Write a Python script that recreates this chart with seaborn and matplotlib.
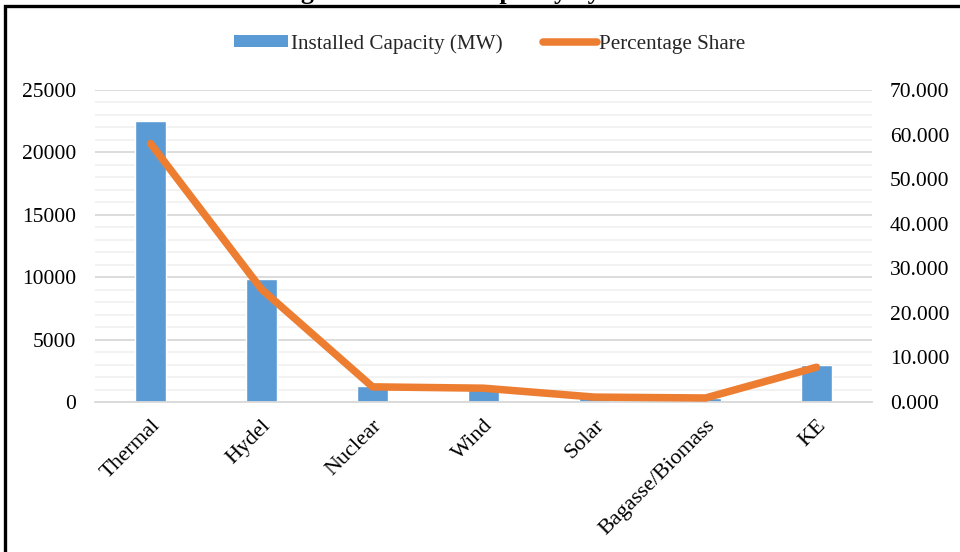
import numpy as np
import pandas as pd
import matplotlib
matplotlib.use("Agg")
import matplotlib.pyplot as plt
from matplotlib.patches import Rectangle, Patch
from matplotlib.lines import Line2D
from matplotlib.ticker import FormatStrFormatter, MultipleLocator
import seaborn as sns

# Installed generation capacity by source
categories = ["Thermal", "Hydel", "Nuclear", "Wind", "Solar", "Bagasse/Biomass", "KE"]
capacity_mw = [22480, 9860, 1300, 1200, 430, 360, 2980]
share_pct = [58.0, 25.3, 3.4, 3.1, 1.1, 0.9, 7.8]

bar_label = "Installed Capacity (MW)"
line_label = "Percentage Share"
title_text = "Figure: Installed Capacity by Source"

BLUE = "#5B9BD5"
ORANGE = "#ED7D31"
GRID_MAJOR = "#D9D9D9"
GRID_MINOR = "#EFEFEF"

sns.set_theme(style="white")
plt.rcParams["font.family"] = ["Liberation Serif", "DejaVu Serif"]

df = pd.DataFrame({"source": categories, "capacity": capacity_mw, "share": share_pct})

W, H = 960, 552
PX = 72 / 100  # points per pixel at 100 dpi
fig = plt.figure(figsize=(W / 100, H / 100), dpi=100)
ax = fig.add_axes([95 / W, (H - 402) / H, (872 - 95) / W, (402 - 90) / H])

sns.barplot(data=df, x="source", y="capacity", color=BLUE, width=0.28,
            saturation=1, ax=ax, zorder=2)

ax.set_ylim(0, 25000)
ax.yaxis.set_major_locator(MultipleLocator(5000))
ax.yaxis.set_minor_locator(MultipleLocator(1000))
ax.grid(which="major", axis="y", color=GRID_MAJOR, lw=1.3, zorder=0)
ax.grid(which="minor", axis="y", color=GRID_MINOR, lw=1.1, zorder=0)
ax.set_axisbelow(True)
ax.set_xlim(-0.5, len(categories) - 0.5)
ax.set_xlabel("")
ax.set_ylabel("")

for side in ["top", "left", "right"]:
    ax.spines[side].set_visible(False)
ax.spines["bottom"].set_color(GRID_MAJOR)
ax.spines["bottom"].set_linewidth(1.3)

ax.set_xticks(np.arange(-0.5, len(categories), 1), minor=True)
ax.tick_params(axis="x", which="major", length=0, pad=14 * PX)
ax.tick_params(axis="x", which="minor", length=6 * PX, width=1.1,
               color=GRID_MAJOR, direction="out")
ax.tick_params(axis="y", which="both", length=0, pad=19 * PX, labelsize=15.5,
               labelcolor="black")
ax.set_xticks(np.arange(len(categories)))
ax.set_xticklabels(categories, rotation=45, ha="right", va="top",
                   rotation_mode="anchor", fontsize=16, color="black")

ax2 = ax.twinx()
sns.lineplot(x=np.arange(len(categories)), y=share_pct, color=ORANGE, lw=5.4,
             ax=ax2, zorder=3, solid_capstyle="round", solid_joinstyle="miter")
ax2.set_ylim(0, 70)
ax2.yaxis.set_major_locator(MultipleLocator(10))
ax2.yaxis.set_major_formatter(FormatStrFormatter("%.3f"))
ax2.tick_params(axis="y", length=0, pad=18 * PX, labelsize=15.5, labelcolor="black")
for side in ["top", "left", "right", "bottom"]:
    ax2.spines[side].set_visible(False)
ax2.set_ylabel("")
ax2.grid(False)

handles = [Patch(facecolor=BLUE, edgecolor="none"),
           Line2D([0], [0], color=ORANGE, lw=5.4, solid_capstyle="round")]
fig.legend(handles, [bar_label, line_label], loc="center",
           bbox_to_anchor=(490 / W, 1 - 44 / H), ncol=2, frameon=False,
           fontsize=15.2, handlelength=2.55, handleheight=0.5,
           handletextpad=0.12, columnspacing=1.92)

# Outer frame and heading sitting above it
fig.patches.append(Rectangle((4.5 / W, -0.1), 1.2, (H - 5.5) / H + 0.1,
                             transform=fig.transFigure, fill=False,
                             ec="black", lw=2.4, zorder=10))
fig.text(278 / W, 1 + 1.5 / H, title_text, ha="left", va="baseline",
         fontsize=18.5, fontweight="bold", color="black")

fig.savefig("out.png", dpi=100)
